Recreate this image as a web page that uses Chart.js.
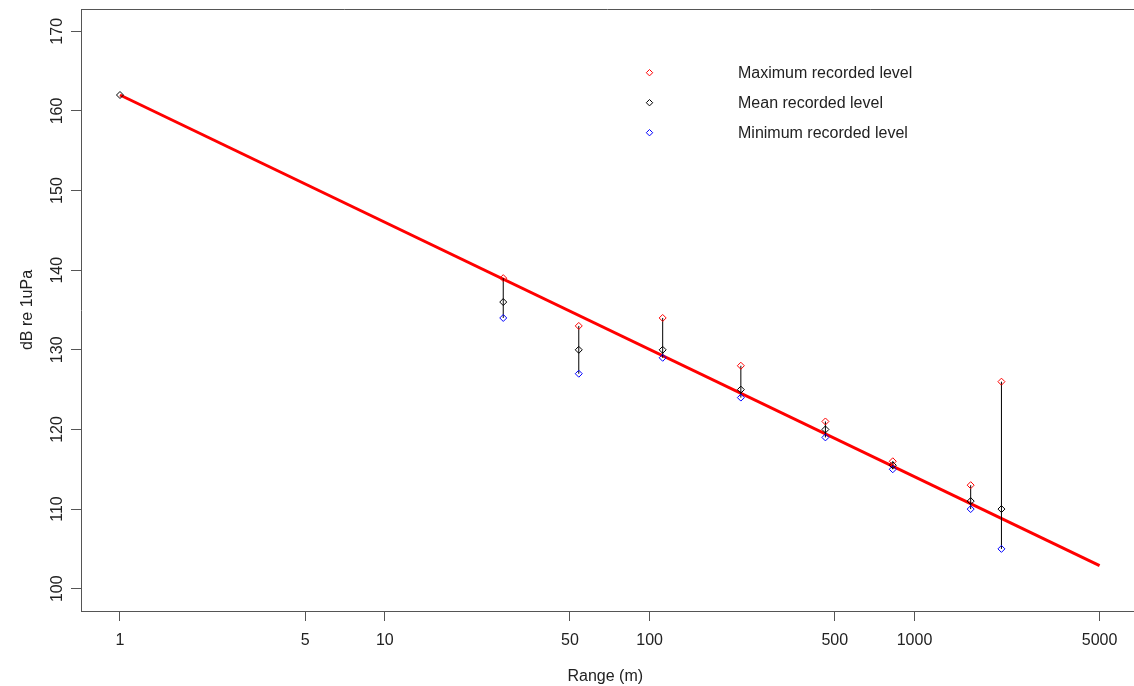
<!DOCTYPE html>
<html>
<head>
<meta charset="utf-8">
<script src="https://cdn.jsdelivr.net/npm/chart.js@4/dist/chart.umd.min.js"></script>
<style>
  html, body { margin: 0; padding: 0; background: #fff; }
  #wrap { width: 1134px; height: 686px; position: relative; }
</style>
</head>
<body>
<div id="wrap"><canvas id="c" width="1134" height="686"></canvas></div>
<script>
// ---- data ----
const ranges      = [1,   28,  54,  112, 221, 461, 828,   1630, 2130];
const maxLevels   = [null,139, 133, 134, 128, 121, 116,   113,  126];
const meanLevels  = [162, 136, 130, 130, 125, 120, 115.5, 111,  110];
const minLevels   = [null,134, 127, 129, 124, 119, 115,   110,  105];
const fitRanges   = [1, 5000];
const fitLevels   = [162, 102.9];
const xTickValues = [1, 5, 10, 50, 100, 500, 1000, 5000];
const yTickValues = [100, 110, 120, 130, 140, 150, 160, 170];
const legendLabels = ['Maximum recorded level', 'Mean recorded level', 'Minimum recorded level'];
const legendColors = ['#ff0000', '#000000', '#0000ff'];

const FONT = '"Liberation Sans", Arial, sans-serif';
Chart.defaults.font.family = FONT;
Chart.defaults.font.size = 16;

const pts = (ys) => ranges.map((x, i) => ({ x: x, y: ys[i] })).filter(p => p.y !== null);
const bars = [];
ranges.forEach((x, i) => {
  if (maxLevels[i] !== null && minLevels[i] !== null) {
    bars.push({ x: x, y: minLevels[i] }, { x: x, y: maxLevels[i] }, { x: x, y: null });
  }
});

const markerDs = (label, ys, color) => ({
  type: 'scatter', label: label, data: pts(ys),
  pointStyle: 'rectRot', pointRadius: 3.5, pointHoverRadius: 3.5,
  borderColor: color, backgroundColor: 'rgba(0,0,0,0)', pointBorderWidth: 1, borderWidth: 1,
  showLine: false, order: 1
});

const extras = {
  id: 'extras',
  afterDraw(chart) {
    const ctx = chart.ctx, a = chart.chartArea;
    ctx.save();
    // top and bottom border of the box, running to the image edge as in the reference
    ctx.strokeStyle = '#555';
    ctx.lineWidth = 1;
    ctx.beginPath();
    ctx.moveTo(a.left, Math.round(a.top) + 0.5);
    ctx.lineTo(chart.width, Math.round(a.top) + 0.5);
    ctx.moveTo(a.left, Math.round(a.bottom) + 0.5);
    ctx.lineTo(chart.width, Math.round(a.bottom) + 0.5);
    ctx.stroke();
    // y tick labels, rotated like the reference
    const ys = chart.scales.y;
    ctx.fillStyle = '#222';
    ctx.font = '16px ' + FONT;
    ctx.textAlign = 'center';
    ctx.textBaseline = 'middle';
    ys.ticks.forEach(t => {
      const py = ys.getPixelForValue(t.value);
      ctx.save();
      ctx.translate(57.5, py);
      ctx.rotate(-Math.PI / 2);
      ctx.fillText(String(t.value), 0, 0);
      ctx.restore();
    });
    // legend (no box)
    const markY = [72.7, 102.7, 132.7];
    const textY = [78, 108, 138];
    legendLabels.forEach((lab, i) => {
      const cx = 649.5, cy = markY[i], r = 3.2;
      ctx.strokeStyle = legendColors[i];
      ctx.lineWidth = 1;
      ctx.beginPath();
      ctx.moveTo(cx, cy - r); ctx.lineTo(cx + r, cy); ctx.lineTo(cx, cy + r); ctx.lineTo(cx - r, cy); ctx.closePath();
      ctx.stroke();
      ctx.fillStyle = '#222';
      ctx.textAlign = 'left';
      ctx.textBaseline = 'alphabetic';
      ctx.fillText(lab, 738, textY[i]);
    });
    ctx.restore();
  }
};

new Chart(document.getElementById('c'), {
  type: 'scatter',
  data: {
    datasets: [
      markerDs(legendLabels[0], maxLevels, legendColors[0]),
      markerDs(legendLabels[1], meanLevels, legendColors[1]),
      markerDs(legendLabels[2], minLevels, legendColors[2]),
      {
        type: 'line', label: 'range bars', data: bars,
        borderColor: '#000', borderWidth: 1, pointRadius: 0, spanGaps: false,
        fill: false, order: 2
      },
      {
        type: 'line', label: 'fit', data: fitRanges.map((x, i) => ({ x: x, y: fitLevels[i] })),
        borderColor: '#ff0000', borderWidth: 3, pointRadius: 0, fill: false, order: 3
      }
    ]
  },
  options: {
    responsive: false,
    animation: false,
    events: [],
    layout: { padding: { top: 9, right: 0, left: 0, bottom: 0 } },
    plugins: { legend: { display: false }, tooltip: { enabled: false } },
    scales: {
      x: {
        type: 'logarithmic',
        bounds: 'data',
        min: 0.7125, max: 6485,
        afterBuildTicks: s => { s.ticks = xTickValues.map(v => ({ value: v })); },
        afterFit: s => { s.height = 75; s.paddingLeft = 0; s.paddingRight = 0; },
        ticks: {
          autoSkip: false, maxRotation: 0, minRotation: 0, padding: 10,
          color: '#222', font: { size: 16 },
          callback: v => String(v)
        },
        grid: { display: true, drawOnChartArea: false, drawTicks: true, tickLength: 10, color: '#555', lineWidth: 1 },
        border: { display: true, color: '#555', width: 1 },
        title: { display: true, text: 'Range (m)', color: '#222', font: { size: 16 }, padding: { top: 0, bottom: 0 } }
      },
      y: {
        type: 'linear',
        bounds: 'data',
        min: 97.2, max: 172.8,
        afterBuildTicks: s => { s.ticks = yTickValues.map(v => ({ value: v })); },
        afterFit: s => { s.width = 81; s.paddingTop = 0; s.paddingBottom = 0; },
        ticks: { display: false },
        grid: { display: true, drawOnChartArea: false, drawTicks: true, tickLength: 10, color: '#555', lineWidth: 1 },
        border: { display: true, color: '#555', width: 1 },
        title: { display: true, text: 'dB re 1uPa', color: '#222', font: { size: 16 }, padding: { top: 18, bottom: 0 } }
      }
    }
  },
  plugins: [extras]
});
</script>
</body>
</html>
